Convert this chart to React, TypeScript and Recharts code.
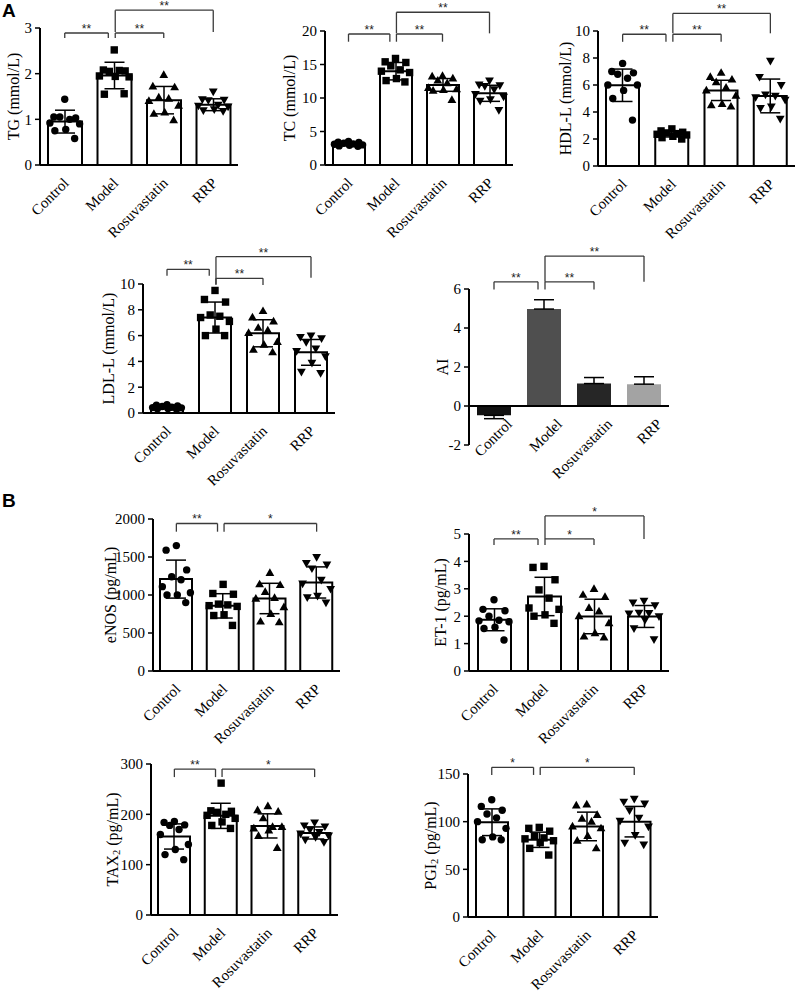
import React from "react";
import {
  ComposedChart,
  Bar,
  ErrorBar,
  Scatter,
  XAxis,
  YAxis,
  ReferenceLine,
  Cell,
} from "recharts";

const SERIF = '"Liberation Serif", "Times New Roman", serif';
const SANS = '"Liberation Sans", Arial, sans-serif';

const GROUPS = ["Control", "Model", "Rosuvastatin", "RRP"];
const SHAPES = ["circle", "square", "up", "down"];
// horizontal spread of the dots inside a bar (category units)
const JITTER = [0, -0.22, 0.22, -0.1, 0.1, -0.3, 0.3, 0.02, -0.2, 0.2];

// ---- TG
const TG_TICKS = [0, 1, 2, 3];
const TG_MEAN = [0.95, 1.96, 1.42, 1.32];
const TG_SD = [0.25, 0.29, 0.3, 0.13];
const TG_POINTS = [
  [1.44, 1.05, 1.03, 1.05, 1.0, 0.92, 0.9, 0.78, 0.75, 0.58],
  [2.52, 2.08, 2.06, 2.05, 2.07, 1.95, 1.93, 1.94, 1.55, 1.56],
  [1.97, 1.72, 1.7, 1.48, 1.45, 1.4, 1.3, 1.15, 1.12, 0.98],
  [1.61, 1.44, 1.43, 1.42, 1.32, 1.3, 1.28, 1.22, 1.2, 1.18],
];
const TG_SIG = [
  { from: 0, to: 1, top: 2.89, legA: 2.78, legB: 2.78, text: "**" },
  { from: 1, to: 2, top: 2.89, legA: 2.78, legB: 2.78, text: "**" },
  { from: 1, to: 3, top: 3.39, legA: 2.91, legB: 2.91, text: "**" },
];

// ---- TC
const TC_TICKS = [0, 5, 10, 15, 20];
const TC_MEAN = [3.1, 14.0, 11.95, 10.7];
const TC_SD = [0.2, 1.3, 0.95, 1.2];
const TC_POINTS = [
  [3.5, 3.4, 3.35, 3.25, 3.15, 3.1, 3.0, 2.95, 2.85, 2.8],
  [15.9, 15.4, 15.3, 14.8, 14.2, 14.0, 13.8, 12.9, 12.6, 12.4],
  [13.3, 13.2, 12.9, 12.6, 12.2, 11.5, 11.3, 11.2, 11.1, 9.7],
  [12.6, 12.0, 11.9, 11.8, 11.3, 10.6, 10.2, 9.8, 9.6, 8.2],
];
const TC_SIG = [
  { from: 0, to: 1, top: 19.55, legA: 18.4, legB: 18.4, text: "**" },
  { from: 1, to: 2, top: 19.55, legA: 18.4, legB: 18.4, text: "**" },
  { from: 1, to: 3, top: 22.8, legA: 19.65, legB: 19.65, text: "**" },
];

// ---- HDL-L
const HDL_TICKS = [0, 2, 4, 6, 8, 10];
const HDL_MEAN = [5.98, 2.35, 5.6, 5.19];
const HDL_SD = [1.2, 0.2, 0.75, 1.25];
const HDL_POINTS = [
  [7.6, 7.0, 6.9, 6.8, 6.5, 6.0, 6.0, 5.6, 5.0, 3.4],
  [2.75, 2.6, 2.5, 2.45, 2.4, 2.35, 2.3, 2.2, 2.1, 2.0],
  [6.9, 6.6, 6.4, 6.2, 5.8, 5.6, 5.2, 4.6, 4.5, 4.4],
  [7.8, 6.6, 6.0, 5.3, 5.2, 5.1, 4.9, 4.4, 4.3, 3.5],
];
const HDL_SIG = [
  { from: 0, to: 1, top: 9.76, legA: 9.2, legB: 9.2, text: "**" },
  { from: 1, to: 2, top: 9.76, legA: 9.2, legB: 9.2, text: "**" },
  { from: 1, to: 3, top: 11.3, legA: 9.83, legB: 9.83, text: "**" },
];

// ---- LDL-L
const LDL_TICKS = [0, 2, 4, 6, 8, 10];
const LDL_MEAN = [0.42, 7.4, 6.18, 4.7];
const LDL_SD = [0.1, 1.2, 1.05, 1.0];
const LDL_POINTS = [
  [0.65, 0.6, 0.55, 0.5, 0.45, 0.42, 0.4, 0.35, 0.32, 0.3],
  [9.5, 8.8, 8.6, 7.6, 7.5, 7.4, 7.1, 6.5, 6.0, 6.0],
  [7.9, 7.4, 7.1, 6.6, 6.4, 6.2, 5.5, 5.3, 4.9, 4.7],
  [6.0, 5.9, 5.8, 5.5, 5.0, 4.8, 4.4, 3.9, 3.2, 3.1],
];
const LDL_SIG = [
  { from: 0, to: 1, top: 11.14, legA: 10.64, legB: 10.64, text: "**" },
  { from: 1, to: 2, top: 10.44, legA: 9.92, legB: 9.92, text: "**" },
  { from: 1, to: 3, top: 12.12, legA: 10.0, legB: 10.49, text: "**" },
];

// ---- AI
const AI_TICKS = [-2, 0, 2, 4, 6];
const AI_MEAN = [-0.48, 4.97, 1.15, 1.12];
const AI_ERR = [
  [0.17, 0],
  [0, 0.48],
  [0, 0.31],
  [0, 0.38],
];
const AI_SIG = [
  { from: 0, to: 1, top: 6.37, legA: 5.98, legB: 5.98, text: "**" },
  { from: 1, to: 2, top: 6.37, legA: 5.98, legB: 5.98, text: "**" },
  { from: 1, to: 3, top: 7.69, legA: 6.37, legB: 6.37, text: "**" },
];

// ---- eNOS
const ENOS_TICKS = [0, 500, 1000, 1500, 2000];
const ENOS_MEAN = [1209, 857, 954, 1165];
const ENOS_SD = [250, 160, 200, 205];
const ENOS_POINTS = [
  [1650, 1590, 1330, 1240, 1200, 1110, 1030, 1000, 1000, 900],
  [1140, 1020, 1010, 880, 870, 860, 850, 740, 730, 600],
  [1290, 1140, 1130, 1040, 960, 950, 840, 750, 650, 640],
  [1500, 1420, 1400, 1350, 1200, 1150, 1080, 990, 970, 900],
];
const ENOS_SIG = [
  { from: 0, to: 1, top: 1941, legA: 1833, legB: 1833, text: "**" },
  { from: 1, to: 3, top: 1941, legA: 1833, legB: 1833, text: "*" },
];

// ---- ET-1
const ET_TICKS = [0, 1, 2, 3, 4, 5];
const ET_MEAN = [1.87, 2.72, 1.99, 1.99];
const ET_SD = [0.4, 0.7, 0.63, 0.4];
const ET_POINTS = [
  [2.6, 2.25, 2.2, 2.0, 1.85, 1.83, 1.8, 1.6, 1.55, 1.13],
  [3.82, 3.78, 3.33, 2.96, 2.66, 2.3, 2.25, 2.05, 2.0, 1.74],
  [2.99, 2.78, 2.7, 2.3, 2.17, 2.0, 1.74, 1.38, 1.26, 1.22],
  [2.56, 2.5, 2.4, 2.13, 2.12, 2.1, 2.0, 1.87, 1.56, 1.16],
];
const ET_SIG = [
  { from: 0, to: 1, top: 4.82, legA: 4.6, legB: 4.6, text: "**" },
  { from: 1, to: 2, top: 4.82, legA: 4.6, legB: 4.6, text: "*" },
  { from: 1, to: 3, top: 5.66, legA: 4.82, legB: 4.82, text: "*" },
];

// ---- TAX2
const TAX_TICKS = [0, 100, 200, 300];
const TAX_MEAN = [156, 197, 177, 163];
const TAX_SD = [25, 25, 24, 12];
const TAX_POINTS = [
  [186, 184, 179, 178, 170, 160, 140, 130, 120, 110],
  [262, 207, 206, 204, 200, 198, 192, 185, 178, 172],
  [216, 208, 205, 192, 175, 172, 175, 168, 157, 133],
  [184, 178, 176, 170, 165, 162, 158, 155, 150, 145],
];
const TAX_SIG = [
  { from: 0, to: 1, top: 290, legA: 274, legB: 274, text: "**" },
  { from: 1, to: 3, top: 290, legA: 274, legB: 274, text: "*" },
];

// ---- PGI2
const PGI_TICKS = [0, 50, 100, 150];
const PGI_MEAN = [99.4, 81, 95, 100];
const PGI_SD = [14, 8, 15, 16];
const PGI_POINTS = [
  [123, 116, 112, 108, 104, 100, 93, 84, 81, 81],
  [94, 93, 90, 85, 83, 82, 80, 78, 72, 65],
  [118, 117, 107, 103, 100, 95, 93, 85, 80, 72],
  [124, 121, 119, 112, 104, 101, 95, 86, 78, 76],
];
const PGI_SIG = [
  { from: 0, to: 1, top: 157, legA: 149, legB: 149, text: "*" },
  { from: 1, to: 3, top: 157, legA: 149, legB: 149, text: "*" },
];

const AI_FILLS = ["#111111", "#4f4f4f", "#262626", "#a3a3a3"];

const PANELS = [
  { key: "tg", ticks: TG_TICKS, label: ["TG (mmol/L)"], mean: TG_MEAN, err: TG_SD, points: TG_POINTS, sig: TG_SIG, box: { left: 40, right: 238, top: 28, bottom: 165 }, labelOffset: 27, barSize: 34 },
  { key: "tc", ticks: TC_TICKS, label: ["TC (mmol/L)"], mean: TC_MEAN, err: TC_SD, points: TC_POINTS, sig: TC_SIG, box: { left: 325, right: 513, top: 31, bottom: 165 }, labelOffset: 36, barSize: 32 },
  { key: "hdl", ticks: HDL_TICKS, label: ["HDL-L (mmol/L)"], mean: HDL_MEAN, err: HDL_SD, points: HDL_POINTS, sig: HDL_SIG, box: { left: 598, right: 795, top: 31, bottom: 166 }, labelOffset: 33, barSize: 33 },
  { key: "ldl", ticks: LDL_TICKS, label: ["LDL-L (mmol/L)"], mean: LDL_MEAN, err: LDL_SD, points: LDL_POINTS, sig: LDL_SIG, box: { left: 143, right: 335, top: 284, bottom: 413 }, labelOffset: 35, barSize: 32 },
  { key: "ai", ticks: AI_TICKS, label: ["AI"], mean: AI_MEAN, err: AI_ERR, points: null, sig: AI_SIG, box: { left: 469, right: 669, top: 289, bottom: 445 }, labelOffset: 27, barSize: 34, fills: AI_FILLS, tickDx: 14 },
  { key: "enos", ticks: ENOS_TICKS, label: ["eNOS (pg/mL)"], mean: ENOS_MEAN, err: ENOS_SD, points: ENOS_POINTS, sig: ENOS_SIG, box: { left: 153, right: 340, top: 519, bottom: 671 }, labelOffset: 43, barSize: 32 },
  { key: "et", ticks: ET_TICKS, label: ["ET-1 (pg/mL)"], mean: ET_MEAN, err: ET_SD, points: ET_POINTS, sig: ET_SIG, box: { left: 469, right: 669, top: 534, bottom: 671 }, labelOffset: 29, barSize: 33 },
  { key: "tax", ticks: TAX_TICKS, label: ["TAX", "2", " (pg/mL)"], mean: TAX_MEAN, err: TAX_SD, points: TAX_POINTS, sig: TAX_SIG, box: { left: 151, right: 338, top: 764, bottom: 915 }, labelOffset: 39, barSize: 32 },
  { key: "pgi", ticks: PGI_TICKS, label: ["PGI", "2", " (pg/mL)"], mean: PGI_MEAN, err: PGI_SD, points: PGI_POINTS, sig: PGI_SIG, box: { left: 468, right: 658, top: 774, bottom: 917 }, labelOffset: 38, barSize: 32 },
];

const Marker = ({ cx, cy, kind }: any) => {
  if (cx == null || cy == null) return null;
  if (kind === "circle") return <circle cx={cx} cy={cy} r={3.7} fill="#000" />;
  if (kind === "square")
    return <rect x={cx - 3.7} y={cy - 3.7} width={7.4} height={7.4} fill="#000" />;
  if (kind === "up")
    return <path d={`M${cx},${cy - 4.7}L${cx + 4.4},${cy + 3}L${cx - 4.4},${cy + 3}Z`} fill="#000" />;
  return <path d={`M${cx},${cy + 4.7}L${cx + 4.4},${cy - 3}L${cx - 4.4},${cy - 3}Z`} fill="#000" />;
};

const XTick = (props: any) => {
  const { x, y, payload, shift = 0, dx = 0 } = props;
  return (
    <text
      transform={`translate(${x + 5 + dx},${y + 19 - shift}) rotate(-45)`}
      textAnchor="end"
      fontSize={15}
      fontFamily={SERIF}
      fill="#000"
    >
      {payload.value}
    </text>
  );
};

const yLabel = (parts: string[], offset: number) => (p: any) => {
  const vb = p.viewBox;
  const cx = vb.x + vb.width - offset;
  const cy = vb.y + vb.height / 2;
  return (
    <text
      transform={`translate(${cx},${cy}) rotate(-90)`}
      textAnchor="middle"
      dominantBaseline="central"
      fontSize={16}
      fontFamily={SERIF}
      fill="#000"
    >
      {parts[0]}
      {parts.length > 1 && (
        <tspan fontSize={10.5} dy={4}>
          {parts[1]}
        </tspan>
      )}
      {parts.length > 2 && <tspan dy={-4}>{parts[2]}</tspan>}
    </text>
  );
};

const YW = 70;
const MT = 60;
const MR = 6;
const XH = 90;

function Panel({ cfg }: any) {
  const { box, ticks, label, mean, err, points, sig, fills, labelOffset, barSize, tickDx = 0 } = cfg;
  const chartLeft = box.left - YW;
  const width = box.right - chartLeft + MR;
  const height = box.bottom - box.top + MT + XH;
  const min = ticks[0];
  const max = ticks[ticks.length - 1];
  const shift = min < 0 ? ((box.bottom - box.top) * (0 - min)) / (max - min) : 0;
  const data = GROUPS.map((g, i) => ({ name: g, mean: mean[i], err: err[i] }));

  const lineProps = { xAxisId: "num", stroke: "#3a3a3a", strokeWidth: 1.3, ifOverflow: "visible" as const };

  return (
    <div style={{ position: "absolute", left: chartLeft, top: box.top - MT }}>
      <ComposedChart
        width={width}
        height={height}
        data={data}
        margin={{ top: MT, right: MR, left: 0, bottom: 0 }}
      >
        <XAxis
          xAxisId="cat"
          dataKey="name"
          type="category"
          height={XH}
          interval={0}
          axisLine={min < 0 ? false : { stroke: "#000", strokeWidth: 2 }}
          tickLine={false}
          tickSize={0}
          tickMargin={0}
          tick={<XTick shift={shift} dx={tickDx} />}
        />
        <XAxis xAxisId="num" dataKey="x" type="number" domain={[0, 4]} allowDataOverflow hide />
        <YAxis
          dataKey="y"
          width={YW}
          type="number"
          domain={[min, max]}
          ticks={ticks}
          interval={0}
          allowDataOverflow
          axisLine={{ stroke: "#000", strokeWidth: 2 }}
          tickLine={{ stroke: "#000", strokeWidth: 1.5 }}
          tickSize={5}
          tickMargin={3}
          tick={{ fontSize: 15, fill: "#000", fontFamily: SERIF }}
          label={yLabel(label, labelOffset)}
        />
        {min < 0 && <ReferenceLine y={0} xAxisId="cat" stroke="#000" strokeWidth={2} />}
        <Bar
          xAxisId="cat"
          dataKey="mean"
          barSize={barSize}
          fill="#fff"
          stroke={fills ? "none" : "#000"}
          strokeWidth={2}
          isAnimationActive={false}
        >
          {fills && data.map((d, i) => <Cell key={d.name} fill={fills[i]} />)}
          <ErrorBar dataKey="err" width={10} stroke="#000" strokeWidth={1.5} />
        </Bar>
        {points &&
          points.map((vals: number[], gi: number) => (
            <Scatter
              key={GROUPS[gi]}
              xAxisId="num"
              dataKey="y"
              data={vals.map((v, i) => ({ x: gi + 0.5 + JITTER[i], y: v }))}
              isAnimationActive={false}
              shape={(p: any) => <Marker cx={p.cx} cy={p.cy} kind={SHAPES[gi]} />}
            />
          ))}
        {sig.map((s: any, k: number) => {
          const xa = s.from + 0.5 + (s.from === 1 && s.to > 1 ? 0.02 : 0);
          const xb = s.to + 0.5 - (s.to === 1 ? 0.12 : 0);
          return [
            <ReferenceLine
              key={`h${k}`}
              {...lineProps}
              segment={[
                { x: xa, y: s.top },
                { x: xb, y: s.top },
              ]}
              label={{ value: s.text, position: "top", offset: 0, fontSize: 12, fill: "#222", fontFamily: SANS }}
            />,
            <ReferenceLine
              key={`a${k}`}
              {...lineProps}
              segment={[
                { x: xa, y: s.top },
                { x: xa, y: s.legA },
              ]}
            />,
            <ReferenceLine
              key={`b${k}`}
              {...lineProps}
              segment={[
                { x: xb, y: s.top },
                { x: xb, y: s.legB },
              ]}
            />,
          ];
        })}
      </ComposedChart>
    </div>
  );
}

export default function App() {
  return (
    <div
      style={{
        position: "absolute",
        left: 0,
        top: 0,
        width: 796,
        height: 994,
        overflow: "hidden",
        background: "#fff",
      }}
    >
      {PANELS.map((p) => (
        <Panel key={p.key} cfg={p} />
      ))}
      <div style={{ position: "absolute", left: 2, top: 1, fontFamily: SANS, fontWeight: "bold", fontSize: 19, lineHeight: "20px" }}>
        A
      </div>
      <div style={{ position: "absolute", left: 2, top: 491, fontFamily: SANS, fontWeight: "bold", fontSize: 19, lineHeight: "20px" }}>
        B
      </div>
    </div>
  );
}
